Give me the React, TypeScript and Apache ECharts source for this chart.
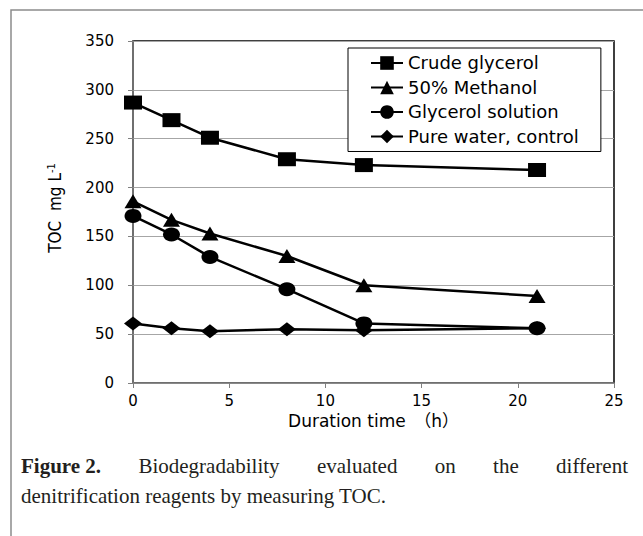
import React, { useEffect, useRef } from "react";
import * as echarts from "echarts";

const hours = [0, 2, 4, 8, 12, 21];
const crudeGlycerol = [287, 269, 251, 229, 223, 218];
const methanol50 = [186, 167, 153, 130, 100, 89];
const glycerolSolution = [171, 152, 129, 96, 61, 56];
const pureWater = [61, 56, 53, 55, 54, 56];
const seriesNames = ["Crude glycerol", "50% Methanol", "Glycerol solution", "Pure water, control"];
const seriesSymbols = ["rect", "triangle", "circle", "diamond"];
const xAxisName = "Duration time　（h）";
const captionLine1 = ["Figure 2.", "Biodegradability", "evaluated", "on", "the", "different"];
const captionLine2 = "denitrification reagents by measuring TOC.";

const SERIF = '"Liberation Serif", "Times New Roman", serif';
const SANS = '"DejaVu Sans", "Noto Sans CJK JP", sans-serif';

function measure(text: string, font: string): number {
  const c = document.createElement("canvas");
  const ctx = c.getContext("2d");
  if (!ctx) return text.length * 9;
  ctx.font = font;
  return ctx.measureText(text).width;
}

export default function App() {
  const ref = useRef<HTMLDivElement>(null);
  useEffect(() => {
    if (!ref.current) return;
    const chart = echarts.init(ref.current, undefined, { renderer: "svg" });
    const seriesData = [crudeGlycerol, methanol50, glycerolSolution, pureWater];
    const sizes: any[] = [[18, 14], [17, 14], [17, 14], [18, 14]];

    // caption (justified first line)
    const capSize = 21;
    const x0 = 21;
    const x1 = 628;
    const fonts = captionLine1.map((w, i) => (i === 0 ? `bold ${capSize}px ${SERIF}` : `${capSize}px ${SERIF}`));
    const widths = captionLine1.map((w, i) => measure(w, fonts[i]));
    const total = widths.reduce((a, b) => a + b, 0);
    const gap = (x1 - x0 - total) / (captionLine1.length - 1);
    let cx = x0;
    const captionWords: any[] = captionLine1.map((w, i) => {
      const el = {
        type: "text",
        x: cx,
        y: 466,
        style: {
          text: w,
          fontSize: capSize,
          fontFamily: SERIF,
          fontWeight: i === 0 ? "bold" : "normal",
          fill: "#231f20",
          textVerticalAlign: "middle",
        },
      };
      cx += widths[i] + gap;
      return el;
    });

    chart.setOption({
      animation: false,
      backgroundColor: "#fff",
      grid: {
        left: 133,
        top: 41,
        width: 481,
        height: 342,
        show: true,
        borderColor: "#000",
        borderWidth: 1.5,
        backgroundColor: "transparent",
      },
      legend: {
        data: seriesNames,
        orient: "vertical",
        left: 348,
        top: 48,
        itemWidth: 32,
        itemHeight: 17,
        itemGap: 6.5,
        padding: [6, 22, 6, 22],
        borderColor: "#000",
        borderWidth: 1,
        backgroundColor: "#fff",
        textStyle: { fontFamily: SANS, fontSize: 18, color: "#000", lineHeight: 17 },
      },
      xAxis: {
        type: "value",
        min: 0,
        max: 25,
        interval: 5,
        name: xAxisName,
        nameLocation: "middle",
        nameGap: 22,
        nameTextStyle: { fontFamily: SANS, fontSize: 17, color: "#000" },
        axisLine: { show: true, lineStyle: { color: "#808080", width: 1.5 } },
        axisTick: { show: true, length: 5, lineStyle: { color: "#808080" } },
        axisLabel: { fontFamily: SANS, fontSize: 15, color: "#000", margin: 10 },
        splitLine: { show: false },
      },
      yAxis: {
        type: "value",
        min: 0,
        max: 350,
        interval: 50,
        axisLine: { show: true, lineStyle: { color: "#808080", width: 1.5 } },
        axisTick: { show: true, length: 5, lineStyle: { color: "#808080" } },
        axisLabel: { fontFamily: SANS, fontSize: 15, color: "#000", margin: 19 },
        splitLine: { show: true, lineStyle: { color: "#a6a6a6", width: 1.2 } },
      },
      series: seriesNames.map((name, k) => ({
        name,
        type: "line",
        data: hours.map((h, i) => [h, seriesData[k][i]]),
        symbol: seriesSymbols[k],
        symbolSize: sizes[k],
        showAllSymbol: true,
        lineStyle: { color: "#000", width: 2.5 },
        itemStyle: { color: "#000", borderWidth: 0 },
      })),
      graphic: [
        {
          type: "polyline",
          shape: { points: [[11, 536], [11, 10], [643, 10]] },
          style: { stroke: "#8c8c8c", lineWidth: 1.5, fill: "none" },
          silent: true,
        },
        {
          type: "text",
          x: 55,
          y: 208,
          rotation: Math.PI / 2,
          style: {
            text: "TOC  mg L{sup|-1}",
            fontSize: 17,
            fontFamily: '"Liberation Sans Narrow", "DejaVu Sans Condensed", "Liberation Sans", sans-serif',
            fill: "#000",
            textAlign: "center",
            textVerticalAlign: "middle",
            lineHeight: 18,
            rich: {
              sup: {
                fontSize: 11,
                fontFamily: '"Liberation Sans Narrow", "DejaVu Sans Condensed", "Liberation Sans", sans-serif',
                verticalAlign: "top",
                lineHeight: 18,
              },
            },
          },
        },
        ...captionWords,
        {
          type: "text",
          x: x0,
          y: 496,
          style: {
            text: captionLine2,
            fontSize: capSize,
            fontFamily: SERIF,
            fill: "#231f20",
            textVerticalAlign: "middle",
          },
        },
      ],
    });
    return () => chart.dispose();
  }, []);
  return <div ref={ref} style={{ position: "fixed", left: 0, top: 0, width: 643, height: 536, background: "#fff" }} />;
}
